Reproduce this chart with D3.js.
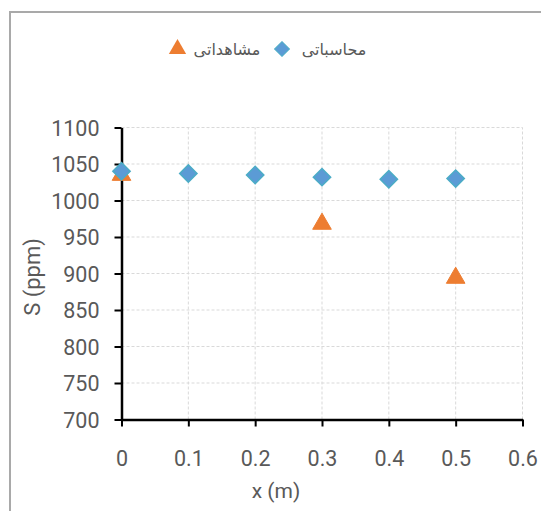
<!DOCTYPE html>
<html><head><meta charset="utf-8">
<script src="https://cdn.jsdelivr.net/npm/d3@7"></script>
<style>body{margin:0;background:#fff;}svg{display:block;}</style>
</head><body>
<svg id="c" width="541" height="511"></svg>
<script>
const xTicks = [0, 0.1, 0.2, 0.3, 0.4, 0.5, 0.6];
const yTicks = [700, 750, 800, 850, 900, 950, 1000, 1050, 1100];
const calcX = [0, 0.1, 0.2, 0.3, 0.4, 0.5];
const calcY = [1040, 1037, 1035, 1032, 1029, 1030];
const obsX = [0, 0.3, 0.5];
const obsY = [1037, 970, 896];
const seriesNames = ["محاسباتی", "مشاهداتی"];
const xTitle = "x (m)";
const yTitle = "S (ppm)";

const svg = d3.select("#c");
const x = d3.scaleLinear().domain([0, 0.6]).range([121.5, 522.5]);
const y = d3.scaleLinear().domain([700, 1100]).range([419.5, 127.5]);

// frame
svg.append("rect").attr("x", 10).attr("y", 12).attr("width", 700).attr("height", 700)
  .attr("fill", "none").attr("stroke", "#a9a9a9").attr("stroke-width", 2);

// grid
const g = svg.append("g");
g.selectAll("line.h").data(yTicks.slice(1)).join("line")
  .attr("x1", x(0)).attr("x2", x(0.6)).attr("y1", d => y(d)).attr("y2", d => y(d))
  .attr("stroke", "#d9d9d9").attr("stroke-dasharray", "3,2").attr("stroke-width", 1);
g.selectAll("line.v").data(xTicks.slice(1)).join("line")
  .attr("y1", y(700)).attr("y2", y(1100)).attr("x1", d => x(d)).attr("x2", d => x(d))
  .attr("stroke", "#d9d9d9").attr("stroke-dasharray", "3,2").attr("stroke-width", 1);

// axes
const fmt = d => String(d);
const yAxis = svg.append("g").attr("transform", `translate(${x(0)},0)`)
  .call(d3.axisLeft(y).tickValues(yTicks).tickSize(7).tickPadding(15).tickFormat(fmt).tickSizeOuter(0));
const xAxis = svg.append("g").attr("transform", `translate(0,${y(700)})`)
  .call(d3.axisBottom(x).tickValues(xTicks).tickSize(7).tickPadding(24).tickFormat(fmt).tickSizeOuter(0));
[yAxis, xAxis].forEach(a => {
  a.select(".domain").attr("stroke", "#000").attr("stroke-width", 2.5);
  a.selectAll(".tick line").attr("stroke", "#000").attr("stroke-width", 2);
  a.selectAll("text").attr("font-family", "Roboto").attr("font-size", 21.5).attr("fill", "#595959");
});
yAxis.selectAll("text").attr("dy", "0.36em");

// titles
svg.append("text").attr("x", 276).attr("y", 498).attr("text-anchor", "middle")
  .attr("font-family", "Roboto").attr("font-size", 21).attr("fill", "#595959").text(xTitle);
svg.append("text").attr("transform", "translate(40,277) rotate(-90)").attr("text-anchor", "middle")
  .attr("font-family", "Roboto").attr("font-size", 22).attr("fill", "#595959").text(yTitle);

// series
const tri = d3.symbol().type(d3.symbolTriangle).size(150);
const dia = d3.symbol().type(d3.symbolSquare).size(150);
svg.append("g").selectAll("path").data(obsX.map((v, i) => [v, obsY[i]])).join("path")
  .attr("d", tri).attr("transform", d => `translate(${x(d[0])},${y(d[1]) + 1.5})`)
  .attr("fill", "#ed7d31").attr("stroke", "#ed7d31").attr("stroke-width", 1);
svg.append("g").selectAll("path").data(calcX.map((v, i) => [v, calcY[i]])).join("path")
  .attr("d", dia).attr("transform", d => `translate(${x(d[0])},${y(d[1])}) rotate(45)`)
  .attr("fill", "#5b9bd5").attr("stroke", "#4bacc6").attr("stroke-width", 1.5);

// legend
const lg = svg.append("g");
lg.append("path").attr("d", d3.symbol().type(d3.symbolSquare).size(110))
  .attr("transform", "translate(282,49) rotate(45)").attr("fill", "#5b9bd5").attr("stroke", "#4bacc6").attr("stroke-width", 1);
lg.append("text").attr("x", 334).attr("y", 55).attr("text-anchor", "middle")
  .attr("font-family", "DejaVu Sans").attr("font-size", 16).attr("fill", "#595959").text(seriesNames[0]);
lg.append("path").attr("d", d3.symbol().type(d3.symbolTriangle).size(130))
  .attr("transform", "translate(177.5,49)").attr("fill", "#ed7d31");
lg.append("text").attr("x", 227).attr("y", 55).attr("text-anchor", "middle")
  .attr("font-family", "DejaVu Sans").attr("font-size", 16).attr("fill", "#595959").text(seriesNames[1]);
</script>
</body></html>
